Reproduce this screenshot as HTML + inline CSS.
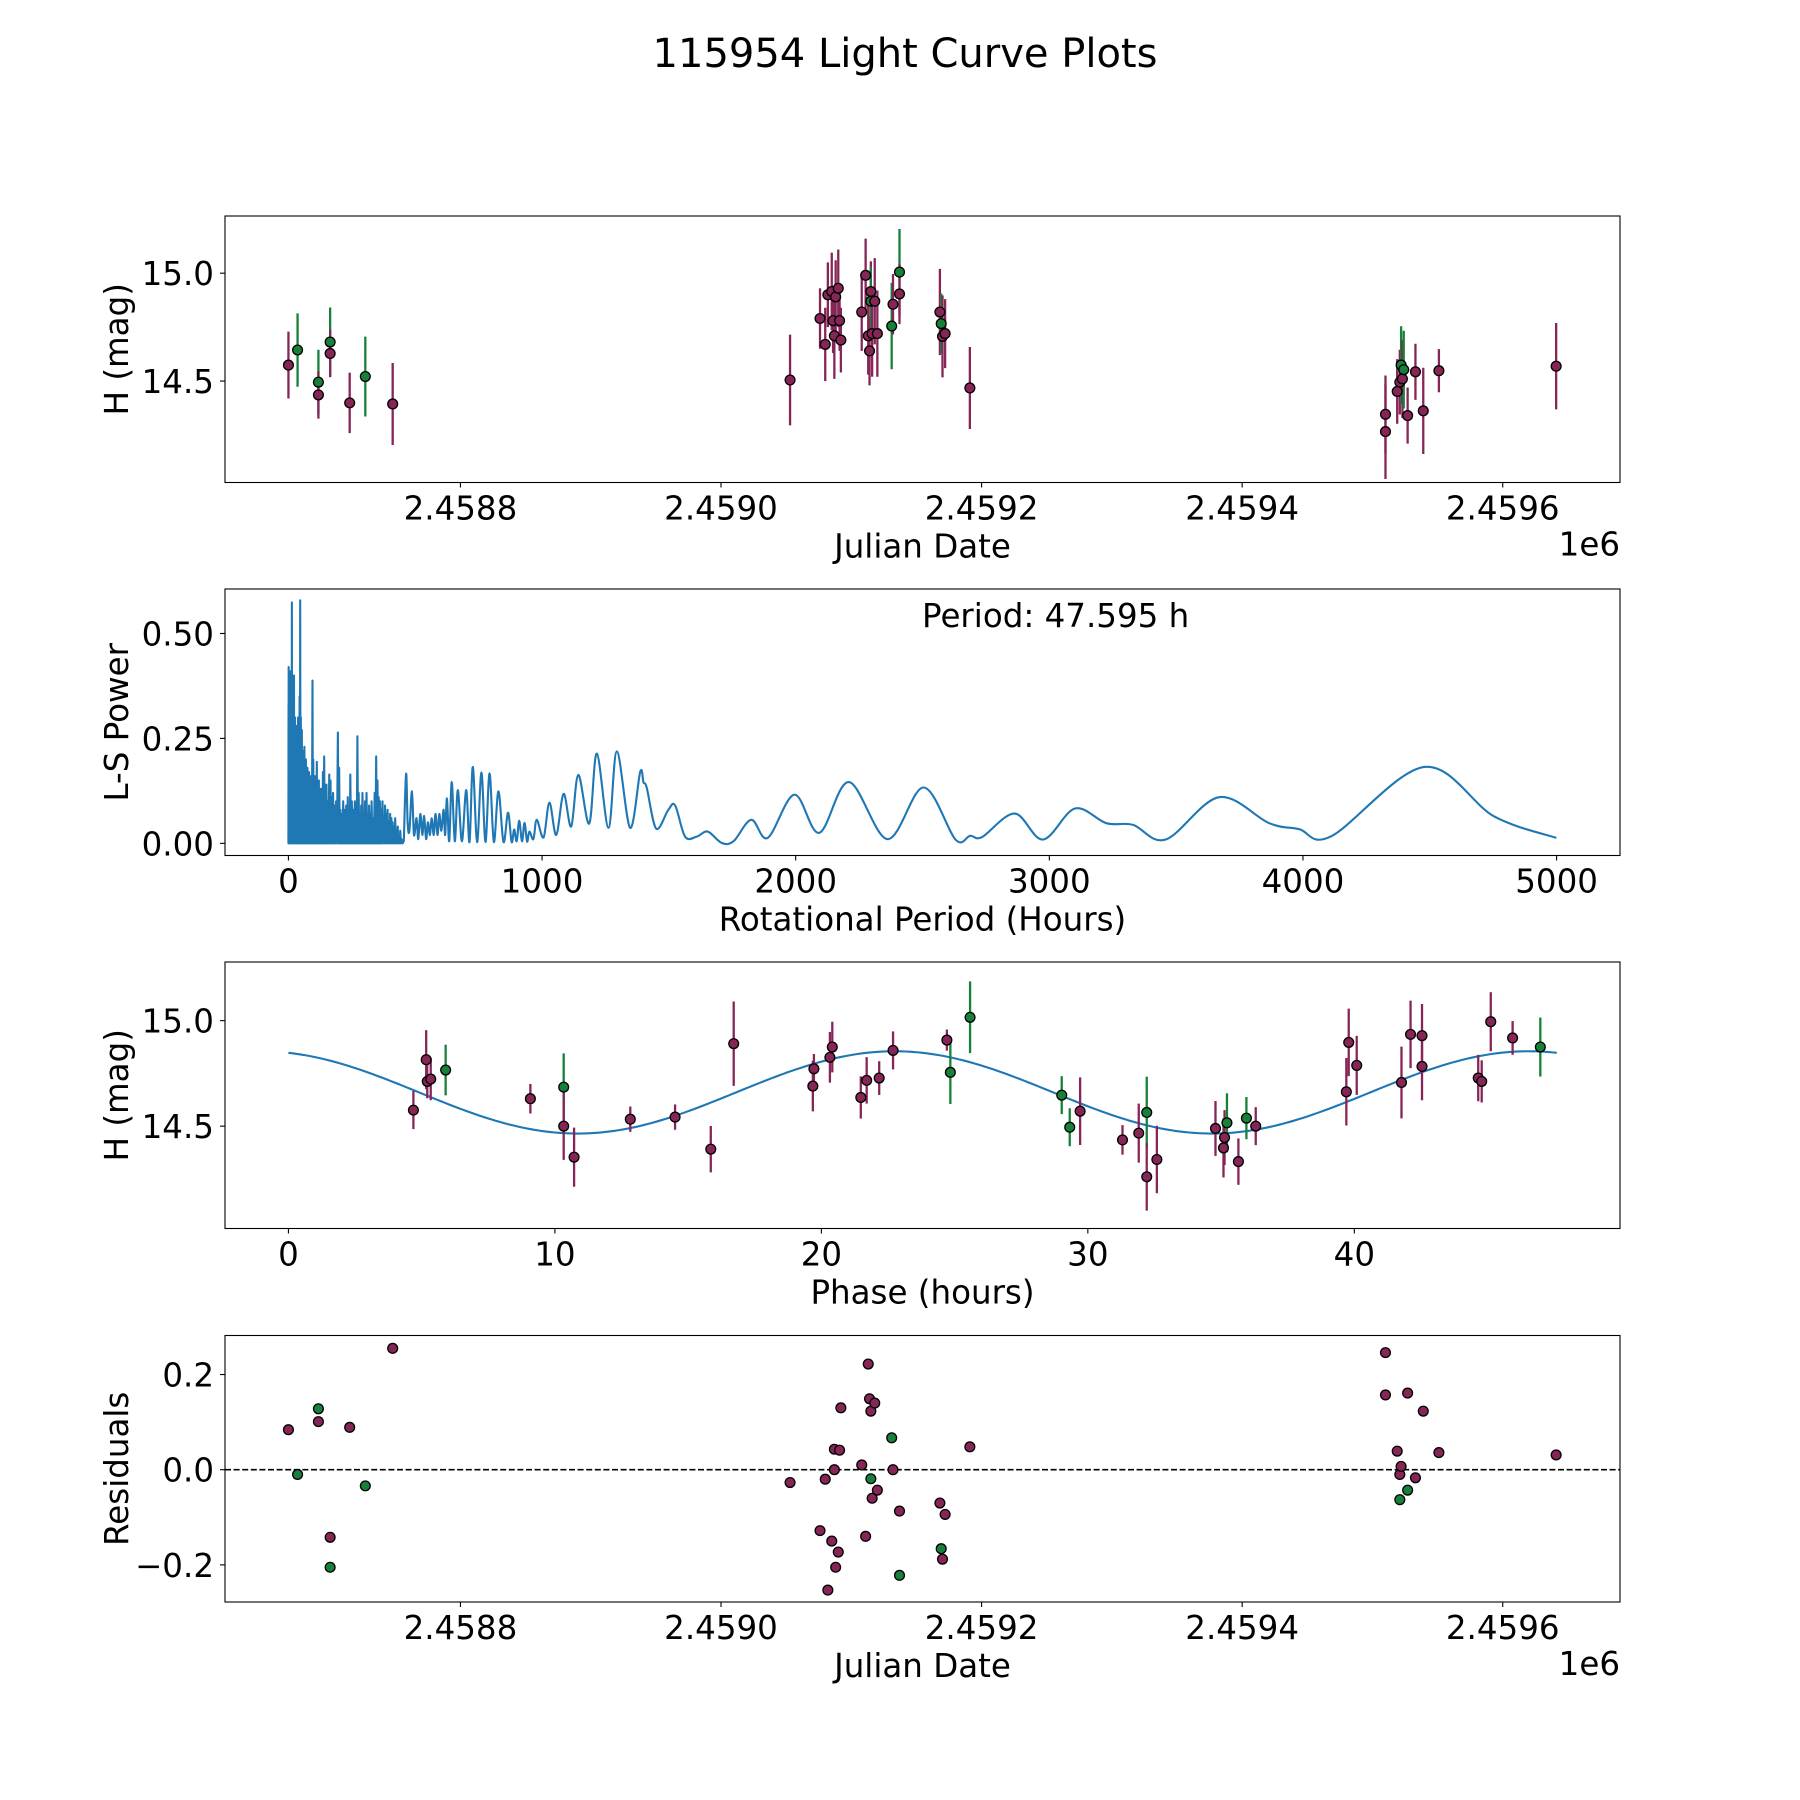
<!DOCTYPE html>
<html><head><meta charset="utf-8"><title>115954 Light Curve Plots</title>
<style>html,body{margin:0;padding:0;background:#fff}svg{display:block}text{font-family:"DejaVu Sans","Liberation Sans",sans-serif;fill:#000}</style>
</head><body>
<svg id="fig" xmlns="http://www.w3.org/2000/svg" width="1800" height="1800" viewBox="0 0 1800 1800">
<rect width="1800" height="1800" fill="#fff"/>
<text x="905" y="67" font-size="40" text-anchor="middle">115954 Light Curve Plots</text>
</svg>
<script>
// ---- Panel 1: light curve ----
const jd1 = [2458668,2458675,2458691,2458691,2458700,2458700,2458715,2458727,2458748,
 2459053,2459076,2459080,2459082,2459085,2459086,2459087,2459088,2459090,2459091,2459092,
 2459108,2459111,2459113,2459114,2459115,2459115,2459116,2459118,2459120,2459131,2459132,2459137,2459137,
 2459168,2459169,2459170,2459172,2459191,
 2459510,2459510,2459519,2459521,2459522,2459523,2459524,2459527,2459533,2459539,2459551,2459641];
const mag1 = [14.574,14.644,14.495,14.436,14.681,14.628,14.399,14.521,14.394,
 14.505,14.79,14.67,14.90,14.915,14.78,14.71,14.89,14.93,14.78,14.69,
 14.82,14.99,14.71,14.64,14.915,14.87,14.72,14.87,14.72,14.755,14.856,15.005,14.904,
 14.82,14.766,14.707,14.72,14.468,
 14.346,14.266,14.452,14.495,14.574,14.51,14.553,14.34,14.543,14.362,14.548,14.569];
const err1 = [0.155,0.17,0.15,0.11,0.16,0.11,0.14,0.185,0.19,
 0.21,0.14,0.17,0.15,0.18,0.15,0.2,0.17,0.18,0.14,0.15,
 0.18,0.17,0.18,0.16,0.14,0.16,0.2,0.2,0.2,0.2,0.14,0.2,0.14,
 0.2,0.14,0.19,0.16,0.19,
 0.18,0.22,0.15,0.15,0.18,0.18,0.18,0.13,0.13,0.2,0.1,0.2];
const band1 = ['p','g','g','p','g','p','p','g','p',
 'p','p','p','p','p','p','p','p','p','p','p',
 'p','p','p','p','p','g','p','p','p','g','p','g','p',
 'p','g','p','p','p',
 'p','p','p','p','g','p','g','p','p','p','p','p'];
const jdTicks = [2458800,2459000,2459200,2459400,2459600];
const jdTickLabels = ['2.4588','2.4590','2.4592','2.4594','2.4596'];
const magTicks = [14.5,15.0];
const magTickLabels = ['14.5','15.0'];

// ---- Panel 2: Lomb-Scargle periodogram ----
const lsSpikePeriods = [0.5,1,2,3,4,5,6,7,8,9,10,11,12,13.7,15,16,18,20,22,24,26,28,30,32,34,36,38,40,42,44,46.5,49,51,53,55,58,60,63,66,69,72,75,78,81,84,87,90,95,98,101,104,108,112,116,120,124,128,132,136,141,146,150,155,161,166,171,176,182,188,195,200,205,210,216,222,228,234,240,244,250,256,262,267,272,277,282,287,292,297,302,308,313,318,323,328,334,340,346,351,356,361,366,371,376,381,386,391,396,401,406,411,416,421,426,431,436,441,446];
const lsSpikePowers = [0.33,0.42,0.3,0.38,0.25,0.35,0.2,0.3,0.41,0.22,0.3,0.18,0.4,0.574,0.3,0.22,0.35,0.25,0.4,0.2,0.3,0.18,0.28,0.22,0.25,0.19,0.3,0.2,0.26,0.35,0.579,0.3,0.25,0.27,0.2,0.22,0.17,0.23,0.16,0.2,0.14,0.18,0.12,0.17,0.13,0.16,0.15,0.388,0.2,0.13,0.16,0.12,0.194,0.11,0.15,0.12,0.13,0.1,0.17,0.207,0.12,0.14,0.1,0.164,0.15,0.11,0.12,0.09,0.1,0.264,0.18,0.08,0.07,0.1,0.08,0.09,0.11,0.07,0.164,0.1,0.08,0.1,0.09,0.255,0.12,0.06,0.09,0.12,0.07,0.1,0.12,0.06,0.09,0.07,0.1,0.06,0.12,0.207,0.15,0.11,0.1,0.08,0.1,0.06,0.09,0.07,0.08,0.05,0.07,0.06,0.05,0.04,0.06,0.03,0.04,0.02,0.03,0.01];
const lsPeriods = [455,464,470,477,487,495,505,512,520,528,535,543,550,558,565,573,580,588,595,603,612,618,625,634,644,656,668,684,701,714,727,744,761,777,793,810,828,848,866,880,890,900,910,921,931,941,950,966,979,1006,1029,1056,1085,1115,1143,1186,1216,1262,1295,1347,1387,1400,1413,1450,1498,1525,1564,1610,1653,1708,1755,1825,1890,1995,2093,2210,2362,2504,2630,2688,2735,2863,2975,3101,3225,3330,3459,3669,3867,3984,4112,4478,4754,4999];
const lsPowers = [0.005,0.166,0.05,0.03,0.124,0.02,0.06,0.01,0.07,0.02,0.065,0.01,0.05,0.02,0.06,0.02,0.07,0.02,0.07,0.03,0.08,0.02,0.107,0.005,0.146,0.005,0.127,0.005,0.127,0.003,0.182,0.003,0.169,0.003,0.167,0.003,0.124,0.003,0.073,0.003,0.033,0.005,0.054,0.005,0.049,0.004,0.028,0.01,0.056,0.014,0.097,0.02,0.118,0.04,0.163,0.047,0.214,0.037,0.219,0.037,0.17,0.145,0.132,0.035,0.08,0.09,0.016,0.016,0.028,0.001,0.005,0.056,0.013,0.116,0.025,0.146,0.010,0.133,0.009,0.018,0.015,0.071,0.009,0.083,0.048,0.044,0.009,0.11,0.048,0.034,0.017,0.182,0.064,0.013];
const periodTicks = [0,1000,2000,3000,4000,5000];
const periodTickLabels = ['0','1000','2000','3000','4000','5000'];
const powerTicks = [0,0.25,0.5];
const powerTickLabels = ['0.00','0.25','0.50'];

// ---- Panel 3: phased light curve ----
const phase3 = [4.69,5.17,5.21,5.34,5.9,9.08,10.33,10.33,10.72,12.83,14.51,15.85,16.71,19.68,19.72,20.32,20.41,21.48,21.7,22.17,22.69,24.71,24.84,25.58,29.02,29.32,29.71,31.3,31.91,32.21,32.21,32.59,34.79,35.09,35.13,35.22,35.65,35.95,36.3,39.7,39.79,40.09,41.77,42.11,42.54,42.54,44.65,44.78,45.12,45.94,46.98];
const mag3 = [14.576,14.815,14.712,14.723,14.766,14.63,14.685,14.5,14.353,14.533,14.543,14.391,14.891,14.69,14.772,14.826,14.875,14.636,14.717,14.728,14.859,14.908,14.755,15.016,14.647,14.495,14.571,14.435,14.467,14.565,14.26,14.342,14.489,14.397,14.446,14.516,14.332,14.538,14.5,14.663,14.897,14.788,14.707,14.935,14.929,14.783,14.728,14.712,14.995,14.918,14.875];
const err3 = [0.09,0.14,0.08,0.1,0.12,0.07,0.16,0.16,0.14,0.06,0.06,0.11,0.2,0.12,0.07,0.12,0.12,0.1,0.11,0.08,0.09,0.05,0.15,0.17,0.09,0.09,0.16,0.07,0.14,0.17,0.16,0.16,0.13,0.14,0.13,0.14,0.11,0.1,0.09,0.16,0.16,0.14,0.17,0.16,0.15,0.16,0.11,0.1,0.14,0.08,0.14];
const band3 = ['p','p','p','p','g','p','g','p','p','p','p','p','p','p','p','p','p','p','p','p','p','p','g','g','g','g','p','p','p','g','p','p','p','p','p','g','p','g','p','p','p','p','p','p','p','p','p','p','p','p','g'];
const fitParams = [14.66, 0.195, 23.7975, 22.75];  // mean, amplitude, half-period, peak phase
const fitPeriod = 47.595;
const phaseTicks = [0,10,20,30,40];
const phaseTickLabels = ['0','10','20','30','40'];

// ---- Panel 4: residuals ----
const jd4 = [2458668,2458675,2458691,2458691,2458700,2458700,2458715,2458727,2458748,
 2459053,2459076,2459080,2459082,2459085,2459087,2459087,2459088,2459090,2459091,2459092,
 2459108,2459111,2459113,2459114,2459115,2459115,2459116,2459118,2459120,2459131,2459132,2459137,2459137,
 2459168,2459169,2459170,2459172,2459191,
 2459510,2459510,2459519,2459521,2459522,2459521,2459527,2459527,2459533,2459539,2459551,2459641];
const res4 = [0.084,-0.01,0.128,0.101,-0.142,-0.205,0.089,-0.034,0.255,
 -0.027,-0.128,-0.02,-0.253,-0.15,0.043,0.0,-0.205,-0.173,0.041,0.13,
 0.01,-0.14,0.222,0.149,0.123,-0.019,-0.06,0.14,-0.043,0.067,0.0,-0.222,-0.087,
 -0.07,-0.166,-0.188,-0.094,0.048,
 0.246,0.157,0.039,-0.01,0.007,-0.063,0.161,-0.043,-0.017,0.123,0.036,0.031];
const band4 = ['p','g','g','p','p','g','p','g','p',
 'p','p','p','p','p','p','p','p','p','p','p',
 'p','p','p','p','p','g','p','p','p','g','p','g','p',
 'p','g','p','p','p',
 'p','p','p','p','p','g','p','g','p','p','p','p'];
const resTicks = [-0.2,0,0.2];
const resTickLabels = ['\u22120.2','0.0','0.2'];

const NS = 'http://www.w3.org/2000/svg';
const svg = document.getElementById('fig');
const COL = {p:'#862657', g:'#17803a'};
const FS = 32.5;
function el(tag, attrs, parent){const e=document.createElementNS(NS,tag);for(const k in attrs)e.setAttribute(k,attrs[k]);(parent||svg).appendChild(e);return e;}
function scale(d0,d1,r0,r1){return v=>r0+(v-d0)*(r1-r0)/(d1-d0);}

function makeAxes(name, box, xd, yd, xt, xtl, yt, ytl, xlabel, ylabel, offsetText){
  const g = el('g',{});
  
  
  const X = scale(xd[0],xd[1],box.x0,box.x1), Y = scale(yd[0],yd[1],box.y1,box.y0);
  const plot = el('g',{},g);
  
  
  const frame = el('rect',{x:box.x0,y:box.y0,width:box.x1-box.x0,height:box.y1-box.y0,fill:'none',stroke:'#000','stroke-width':1.1},g);
  
  
  xt.forEach((v,i)=>{
    const x=X(v);
    el('line',{x1:x,x2:x,y1:box.y1,y2:box.y1+5,stroke:'#000','stroke-width':1.1},g);
    const t=el('text',{x:x,y:box.y1+37,'font-size':FS,'text-anchor':'middle'},g);
    t.textContent=xtl[i];
    
    
  });
  yt.forEach((v,i)=>{
    const y=Y(v);
    el('line',{x1:box.x0-5,x2:box.x0,y1:y,y2:y,stroke:'#000','stroke-width':1.1},g);
    const t=el('text',{x:box.x0-11,y:y+12,'font-size':FS,'text-anchor':'end'},g);
    t.textContent=ytl[i];
    
    
  });
  const xl=el('text',{x:(box.x0+box.x1)/2,y:box.y1+75,'font-size':FS,'text-anchor':'middle'},g);
  xl.textContent=xlabel;
  
  
  const cy=(box.y0+box.y1)/2;
  const yl=el('text',{x:128,y:cy,'font-size':FS,'text-anchor':'middle',transform:'rotate(-90 128 '+cy+')'},g);
  yl.textContent=ylabel;
  
  
  if(offsetText){
    const o=el('text',{x:box.x1,y:box.y1+73,'font-size':FS,'text-anchor':'end'},g);
    o.textContent=offsetText;
    
    
  }
  return {X,Y,plot,box};
}

function drawPoints(ax, xs, ys, errs, bands, prefix){
  xs.forEach((v,i)=>{
    const x=ax.X(v), y=ax.Y(ys[i]), c=COL[bands[i]];
    if(errs){
      const l=el('line',{x1:x,x2:x,y1:ax.Y(ys[i]-errs[i]),y2:ax.Y(ys[i]+errs[i]),stroke:c,'stroke-width':2.3},ax.plot);
      
      
    }
  });
  xs.forEach((v,i)=>{
    const c=el('circle',{cx:ax.X(v),cy:ax.Y(ys[i]),r:4.9,fill:COL[bands[i]],stroke:'#000','stroke-width':1.3},ax.plot);
    
    
  });
}

// Panel 1
const ax1 = makeAxes('light-curve-axes',{x0:225,x1:1620,y0:216,y1:482.5},[2458619.3,2459690],[14.03,15.265],jdTicks,jdTickLabels,magTicks,magTickLabels,'Julian Date','H (mag)','1e6');
drawPoints(ax1, jd1, mag1, err1, band1, 'light-curve');

// Panel 2
const ax2 = makeAxes('periodogram-axes',{x0:225,x1:1620,y0:589,y1:855.5},[-250,5250],[-0.029,0.606],periodTicks,periodTickLabels,powerTicks,powerTickLabels,'Rotational Period (Hours)','L-S Power');
(function(){
  let d='M'+ax2.X(0)+' '+ax2.Y(0);
  lsSpikePeriods.forEach((p,i)=>{
    d+=' L'+ax2.X(p).toFixed(2)+' '+ax2.Y(lsSpikePowers[i]).toFixed(2);
    d+=' L'+ax2.X(p+ (i<lsSpikePeriods.length-1 ? (lsSpikePeriods[i+1]-p)/2 : 4)).toFixed(2)+' '+ax2.Y(0).toFixed(2);
  });
  const pts=lsPeriods.map((p,i)=>[ax2.X(p),ax2.Y(lsPowers[i])]);
  d+=' L'+pts[0][0].toFixed(2)+' '+pts[0][1].toFixed(2);
  for(let i=0;i<pts.length-1;i++){
    const p0=pts[Math.max(0,i-1)],p1=pts[i],p2=pts[i+1],p3=pts[Math.min(pts.length-1,i+2)];
    const c1=[p1[0]+(p2[0]-p0[0])/6,p1[1]+(p2[1]-p0[1])/6];
    const c2=[p2[0]-(p3[0]-p1[0])/6,p2[1]-(p3[1]-p1[1])/6];
    d+=' C'+c1[0].toFixed(2)+' '+c1[1].toFixed(2)+' '+c2[0].toFixed(2)+' '+c2[1].toFixed(2)+' '+p2[0].toFixed(2)+' '+p2[1].toFixed(2);
  }
  const path=el('path',{d:d,fill:'none',stroke:'#1f77b4','stroke-width':2.1,'stroke-linejoin':'round'},ax2.plot);
  
  
  const t=el('text',{x:922,y:627,'font-size':FS},ax2.plot);
  t.textContent='Period: 47.595 h';
  
  
})();

// Panel 3
const ax3 = makeAxes('phase-curve-axes',{x0:225,x1:1620,y0:962,y1:1228.5},[-2.38,49.97],[14.015,15.278],phaseTicks,phaseTickLabels,magTicks,magTickLabels,'Phase (hours)','H (mag)');
(function(){
  let d='';
  const N=300;
  for(let k=0;k<=N;k++){
    const t=fitPeriod*k/N;
    const m=fitParams[0]+fitParams[1]*Math.cos(2*Math.PI*(t-fitParams[3])/fitParams[2]);
    d+=(k?' L':'M')+ax3.X(t).toFixed(2)+' '+ax3.Y(m).toFixed(2);
  }
  const path=el('path',{d:d,fill:'none',stroke:'#1f77b4','stroke-width':2.1},ax3.plot);
  
  
})();
drawPoints(ax3, phase3, mag3, err3, band3, 'phase-curve');

// Panel 4
const ax4 = makeAxes('residuals-axes',{x0:225,x1:1620,y0:1335.5,y1:1602},[2458619.3,2459690],[-0.278,0.282],jdTicks,jdTickLabels,resTicks,resTickLabels,'Julian Date','Residuals','1e6');
(function(){
  const z=ax4.Y(0);
  const l=el('line',{x1:225,x2:1620,y1:z,y2:z,stroke:'#000','stroke-width':1.6,'stroke-dasharray':'6,2.6'},ax4.plot);
  
  
})();
drawPoints(ax4, jd4, res4, null, band4, 'residual');
</script>
</body></html>
